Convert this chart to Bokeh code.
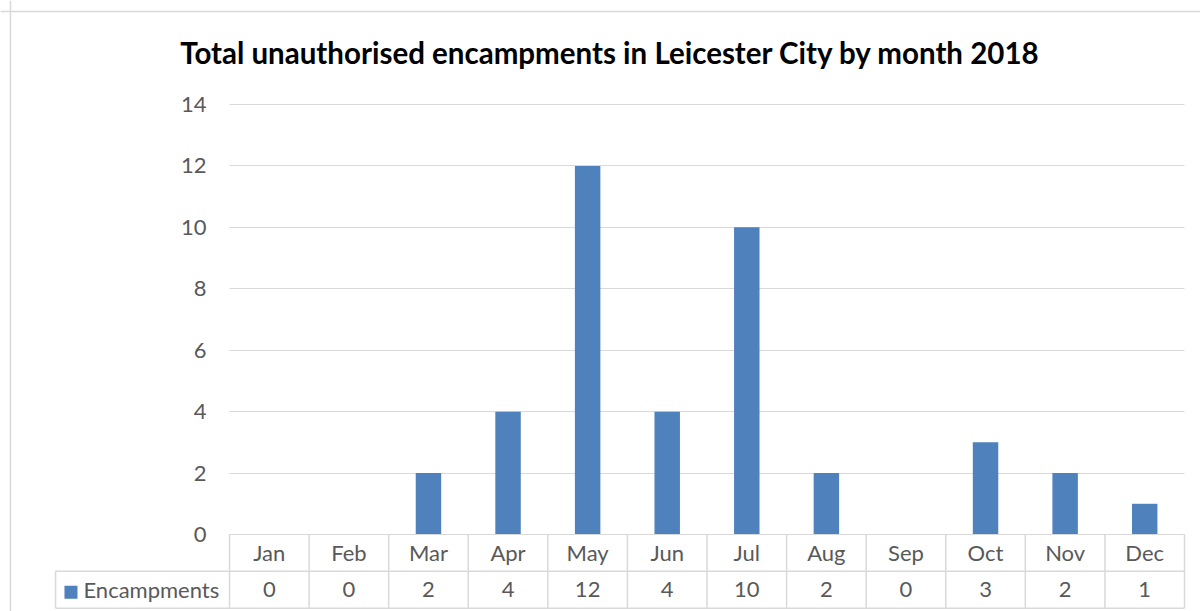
from bokeh.plotting import figure
from bokeh.models import (Range1d, LinearAxis, FixedTicker, Label, Span)
from bokeh.core.properties import value
from bokeh.embed import file_html
from bokeh.resources import INLINE

# ---- data ----
months = ["Jan", "Feb", "Mar", "Apr", "May", "Jun",
          "Jul", "Aug", "Sep", "Oct", "Nov", "Dec"]
encampments = [0, 0, 2, 4, 12, 4, 10, 2, 0, 3, 2, 1]
y_ticks = [0, 2, 4, 6, 8, 10, 12, 14]
series_name = "Encampments"
title_text = "Total unauthorised encampments in Leicester City by month 2018"

# ---- style ----
FONT = "Lato"
BAR = "#4f81bd"
GRID = "#d9d9d9"
TXT = "#595959"
LBL_SIZE = "22px"

n = len(months)
xs = list(range(n))

p = figure(width=1200, height=611, output_backend="svg", toolbar_location=None,
           x_range=Range1d(-3.3775, n - 0.5 + 0.201),
           y_range=Range1d(-2.507, 17.386),
           x_axis_location=None, y_axis_location=None,
           min_border=0, min_border_left=0, min_border_right=0,
           min_border_top=0, min_border_bottom=0)
p.outline_line_color = None
p.background_fill_color = "white"
p.border_fill_color = "white"

# horizontal gridlines limited to the plot area
p.ygrid.ticker = FixedTicker(ticks=y_ticks)
p.ygrid.grid_line_color = GRID
p.ygrid.grid_line_width = 1
p.ygrid.cross_bounds = (-0.5, n - 0.5)
p.xgrid.grid_line_color = None

# y axis drawn at the left edge of the plot area
yax = LinearAxis(fixed_location=-0.5, ticker=FixedTicker(ticks=y_ticks), bounds=(0, max(y_ticks)))
yax.axis_line_color = None
yax.major_tick_line_color = None
yax.minor_tick_line_color = None
yax.major_tick_out = 0
yax.major_tick_in = 0
yax.major_label_standoff = 23
yax.major_label_text_font = FONT
yax.major_label_text_font_size = LBL_SIZE
yax.major_label_text_color = TXT
p.add_layout(yax, "left")

# x axis = header row of the data table
xax = LinearAxis(fixed_location=0, ticker=FixedTicker(ticks=xs), bounds=(-0.5, n - 0.5))
xax.major_label_overrides = {i: m for i, m in enumerate(months)}
xax.axis_line_color = GRID
xax.major_tick_line_color = None
xax.minor_tick_line_color = None
xax.major_tick_out = 0
xax.major_tick_in = 0
xax.major_label_standoff = 5
xax.major_label_text_font = FONT
xax.major_label_text_font_size = LBL_SIZE
xax.major_label_text_color = TXT
p.add_layout(xax, "below")

# bars
p.vbar(x=xs, top=encampments, bottom=0, width=0.32, fill_color=BAR, line_color=None)

# data table grid
row_h = 1.2
table_bottom = -2 * row_h
legend_left = -2.686
v_x = [i - 0.5 for i in range(n + 1)]
p.segment(x0=v_x, y0=[0] * len(v_x), x1=v_x, y1=[table_bottom] * len(v_x),
          line_color=GRID, line_width=1.5)
p.segment(x0=[legend_left, legend_left, legend_left],
          y0=[-row_h, table_bottom, -row_h],
          x1=[n - 0.5, n - 0.5, legend_left],
          y1=[-row_h, table_bottom, table_bottom],
          line_color=GRID, line_width=1.5)

# values row
p.text(x=xs, y=[-1.5 * row_h] * n, text=[str(v) for v in encampments],
       text_align="center", text_baseline="middle", text_font=value(FONT),
       text_font_size=LBL_SIZE, text_color=TXT)

# legend key in the table
p.scatter(x=[-2.492], y=[-1.5 * row_h - 0.08], marker="square", size=13,
          fill_color=BAR, line_color=None)
p.text(x=[-2.335], y=[-1.5 * row_h], text=[series_name], text_align="left",
       text_baseline="middle", text_font=value(FONT), text_font_size=LBL_SIZE,
       text_color=TXT)

# title
p.add_layout(Label(x=4.287, y=15.68, text=title_text, text_align="center",
                   text_baseline="alphabetic", text_font=FONT,
                   text_font_size="29.5px", text_font_style="bold",
                   text_color="black"))

# chart area border (left and top visible)
p.add_layout(Span(location=-3.252, dimension="height", line_color=GRID, line_width=1.5))
p.add_layout(Span(location=17.028, dimension="width", line_color=GRID, line_width=1.5))

open("out.html", "w").write(file_html(p, INLINE))
